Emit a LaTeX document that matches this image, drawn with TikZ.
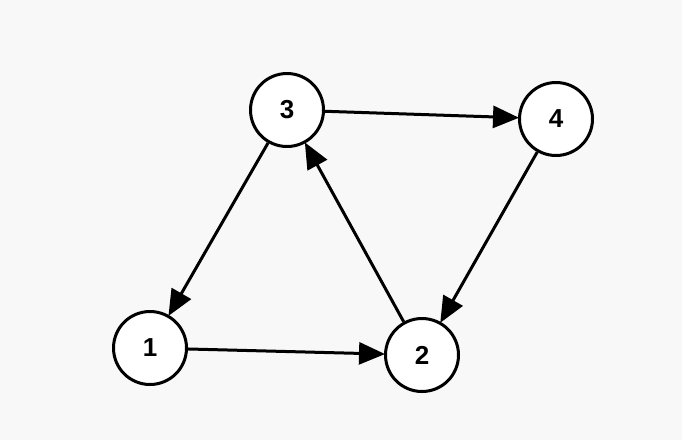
\documentclass[tikz,border=0pt]{standalone}
\usepackage{fontspec}
\setmainfont{Liberation Sans}
\usetikzlibrary{arrows.meta}
\begin{document}
\begin{tikzpicture}[x=1pt,y=-1pt,
  vert/.style={circle,draw=black,line width=3pt,fill=white,minimum size=73pt,inner sep=0pt,font=\fontsize{26}{26}\selectfont\bfseries},
  edge/.style={line width=3pt,-{Triangle[length=26pt,width=22pt]},shorten >=-1pt}]
\fill[fill={rgb,255:red,248;green,248;blue,248}] (0,0) rectangle (682,440);
\useasboundingbox (0,0) rectangle (682,440);
\node[vert] (n3) at (287,110) {3};
\node[vert] (n4) at (556,119) {4};
\node[vert] (n1) at (150,348) {1};
\node[vert] (n2) at (422,355) {2};
\draw[edge] (n3) -- (n4);
\draw[edge] (n3) -- (n1);
\draw[edge] (n2) -- (n3);
\draw[edge] (n1) -- (n2);
\draw[edge] (n4) -- (n2);
\end{tikzpicture}
\end{document}
